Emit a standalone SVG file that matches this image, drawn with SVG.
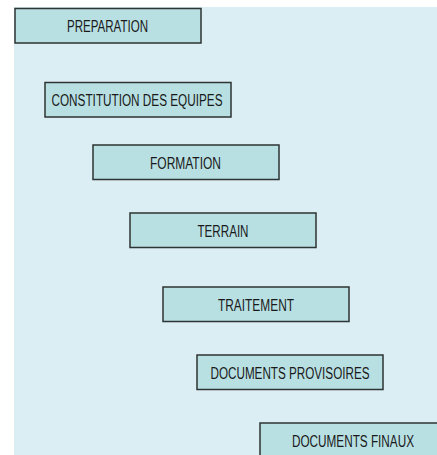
<svg xmlns="http://www.w3.org/2000/svg" width="437" height="455" viewBox="0 0 437 455">
<style>
.bg{fill:#daeef3}
.box{fill:#b8e0e3;stroke:#2e3333;stroke-width:1.5}
.edge{fill:none;stroke:#2e3333;stroke-width:1.5}
.lbl{font-family:"Liberation Sans",Arial,sans-serif;font-size:16px;fill:#1a1a1a;text-anchor:middle}
</style>
<rect width="437" height="455" fill="#ffffff"/>
<rect class="bg" x="14" y="7" width="423" height="448"/>
<g id="connectors"></g>
<g id="preparation"><rect class="box" x="15" y="8.5" width="186" height="34.5"/><text class="lbl" x="107.5" y="31.5" textLength="81" lengthAdjust="spacingAndGlyphs">PREPARATION</text></g>
<g id="constitution"><rect class="box" x="45" y="82.5" width="186" height="34.5"/><text class="lbl" x="137" y="106" textLength="171" lengthAdjust="spacingAndGlyphs">CONSTITUTION DES EQUIPES</text></g>
<g id="formation"><rect class="box" x="93" y="145" width="186" height="34.5"/><text class="lbl" x="185.5" y="169" textLength="71" lengthAdjust="spacingAndGlyphs">FORMATION</text></g>
<g id="terrain"><rect class="box" x="130" y="213" width="186" height="34.5"/><text class="lbl" x="223" y="237" textLength="51" lengthAdjust="spacingAndGlyphs">TERRAIN</text></g>
<g id="traitement"><rect class="box" x="163" y="287" width="186" height="34.5"/><text class="lbl" x="256" y="311" textLength="76" lengthAdjust="spacingAndGlyphs">TRAITEMENT</text></g>
<g id="documents-provisoires"><rect class="box" x="197" y="355" width="186" height="34.5"/><text class="lbl" x="290" y="378.5" textLength="159" lengthAdjust="spacingAndGlyphs">DOCUMENTS PROVISOIRES</text></g>
<g id="documents-finaux"><rect x="260" y="423" width="177" height="32" fill="#b8e0e3"/><path class="edge" d="M260,455 V423 H437"/><text class="lbl" x="353" y="447" textLength="122" lengthAdjust="spacingAndGlyphs">DOCUMENTS FINAUX</text></g>
</svg>
